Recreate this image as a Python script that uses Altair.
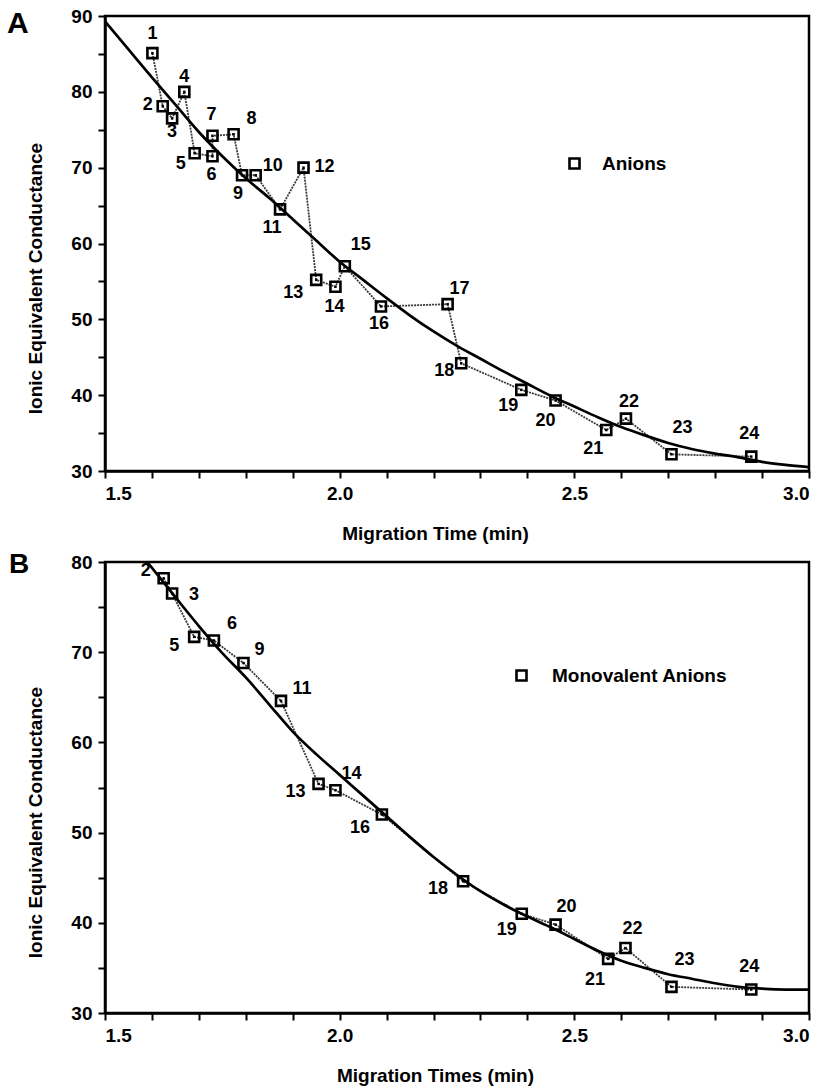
import altair as alt
import pandas as pd

FONT = "Liberation Sans"

# ---------------- Panel A: all anions ----------------
ions_a = list(range(1, 25))
time_a = [1.601, 1.623, 1.643, 1.669, 1.691, 1.729, 1.729, 1.774, 1.792, 1.821,
          1.873, 1.923, 1.950, 1.991, 2.011, 2.088, 2.230, 2.259, 2.387, 2.460,
          2.568, 2.610, 2.707, 2.877]
cond_a = [85.1, 78.1, 76.5, 80.0, 71.9, 71.5, 74.2, 74.4, 69.0, 69.0,
          64.5, 70.0, 55.2, 54.3, 57.0, 51.7, 52.0, 44.2, 40.7, 39.3,
          35.4, 36.9, 32.2, 31.9]
# label offsets (pixels) relative to each marker
lab_dx_a = [0, -15, 0, 0, -14, -1, -1, 18, -4, 17, -8, 21, -23, -1, 16, -2, 12, -17, -13, -10, -13, 3, 11, -2]
lab_dy_a = [-19, -1, 14, -15, 11, 19, -21, -15, 19, -9, 19, -1, 13, 20, -21, 18, -15, 8, 16, 21, 19, -17, -26, -23]

fit_time_a = [1.50, 1.55, 1.60, 1.65, 1.70, 1.75, 1.80, 1.85, 1.90, 1.95, 2.00,
              2.05, 2.10, 2.15, 2.20, 2.25, 2.30, 2.35, 2.40, 2.45, 2.50, 2.55,
              2.60, 2.65, 2.70, 2.75, 2.80, 2.85, 2.90, 2.95, 3.00]
fit_cond_a = [89.3, 85.6, 81.9, 78.3, 74.7, 71.5, 68.6, 66.0, 63.2, 60.4, 57.6,
              55.2, 52.8, 50.5, 48.4, 46.5, 44.8, 43.1, 41.5, 39.9, 38.5, 37.1,
              35.8, 34.7, 33.7, 32.9, 32.3, 31.8, 31.2, 30.8, 30.5]

# ---------------- Panel B: monovalent anions ----------------
ions_b = [2, 3, 5, 6, 9, 11, 13, 14, 16, 18, 19, 20, 21, 22, 23, 24]
time_b = [1.625, 1.643, 1.690, 1.732, 1.795, 1.875, 1.955, 1.991, 2.090, 2.263,
          2.388, 2.460, 2.572, 2.609, 2.707, 2.877]
cond_b = [78.2, 76.5, 71.7, 71.3, 68.8, 64.6, 55.4, 54.7, 52.0, 44.6,
          41.0, 39.8, 36.0, 37.2, 32.9, 32.6]
lab_dx_b = [-18, 22, -20, 18, 16, 21, -23, 16, -22, -25, -15, 11, -13, 7, 13, -2]
lab_dy_b = [-7, 1, 9, -16, -13, -12, 8, -16, 13, 8, 16, -18, 21, -19, -27, -23]

fit_time_b = [1.59, 1.65, 1.70, 1.75, 1.80, 1.85, 1.90, 1.95, 2.00, 2.05, 2.10,
              2.15, 2.20, 2.25, 2.30, 2.35, 2.40, 2.45, 2.50, 2.55, 2.60, 2.65,
              2.70, 2.75, 2.80, 2.85, 2.90, 2.95, 3.00]
fit_cond_b = [80.0, 76.1, 72.9, 69.9, 67.2, 64.2, 61.2, 58.7, 56.4, 54.1, 51.8,
              49.5, 47.3, 45.3, 43.5, 42.0, 40.7, 39.5, 38.2, 36.9, 35.8, 35.0,
              34.3, 33.8, 33.3, 32.9, 32.7, 32.6, 32.6]

x_tick_values = [round(1.5 + 0.1 * i, 1) for i in range(16)]


def panel(ions, times, conds, dxs, dys, fit_x, fit_y, ydom, height, series,
          letter, letter_size, letter_x, letter_y, xtitle, ytitle_y,
          legend_x, legend_y, legend_offset):
    pts = pd.DataFrame({
        "ion": ions, "t": times, "c": conds,
        "label": [str(i) for i in ions], "series": [series] * len(ions),
    })
    fit = pd.DataFrame({"t": fit_x, "c": fit_y})

    x = alt.X(
        "t:Q",
        scale=alt.Scale(domain=[1.5, 3.0], nice=False, zero=False),
        axis=alt.Axis(
            values=x_tick_values,
            labelExpr="abs(datum.value*2 - round(datum.value*2)) < 0.001 ? format(datum.value, '.1f') : ''",
            title=xtitle, titleX=330, titleY=62, titleAlign="center",
            titleBaseline="middle", titleAnchor="start",
        ),
    )
    y_vals = list(range(int(ydom[0]), int(ydom[1]) + 1, 5))
    y = alt.Y(
        "c:Q",
        scale=alt.Scale(domain=ydom, nice=False, zero=False),
        axis=alt.Axis(
            values=y_vals,
            labelExpr="datum.value % 10 === 0 ? datum.label : ''",
            title="Ionic Equivalent Conductance", titleX=-70, titleY=ytitle_y,
            titleAngle=270, titleAlign="center", titleBaseline="middle",
        ),
    )

    conn = alt.Chart(pts).mark_line(
        color="#3a3a3a", strokeWidth=1.8, strokeDash=[2, 1]
    ).encode(x=x, y=y, order="ion:Q")

    fitline = alt.Chart(fit).mark_line(
        color="black", strokeWidth=2.7, clip=True, interpolate="monotone"
    ).encode(x=x, y=y)

    markers = alt.Chart(pts).mark_point(
        filled=False, color="black", strokeWidth=2.6, size=100, opacity=1
    ).encode(
        x=x, y=y,
        shape=alt.Shape(
            "series:N",
            scale=alt.Scale(range=["square"]),
            legend=alt.Legend(
                title=None, orient="none", legendX=legend_x, legendY=legend_y,
                labelFont=FONT, labelFontSize=19, labelFontWeight="bold",
                labelColor="black", labelLimit=400, symbolStrokeWidth=2.6,
                symbolSize=100, symbolStrokeColor="black",
                labelOffset=legend_offset, padding=0,
            ),
        ),
    )
    dots = alt.Chart(pts).mark_point(
        filled=True, shape="square", size=6, color="black", opacity=1
    ).encode(x=x, y=y)

    groups = {}
    for ion, dx, dy in zip(ions, dxs, dys):
        groups.setdefault((dx, dy), []).append(int(ion))
    labels = []
    for (dx, dy), ids in groups.items():
        labels.append(
            alt.Chart(pts).transform_filter(
                alt.FieldOneOfPredicate(field="ion", oneOf=ids)
            ).mark_text(
                dx=dx, dy=dy, font=FONT, fontSize=18, fontWeight="bold",
                color="black", align="center", baseline="middle",
            ).encode(x=x, y=y, text="label:N")
        )

    letter_layer = alt.Chart(pd.DataFrame({"letter": [letter]})).mark_text(
        font=FONT, fontSize=letter_size, fontWeight="bold", color="black",
        align="left", baseline="alphabetic",
    ).encode(text="letter:N", x=alt.value(letter_x), y=alt.value(letter_y))

    return alt.layer(conn, fitline, markers, dots, *labels, letter_layer).properties(
        width=704, height=height
    )


panel_a = panel(ions_a, time_a, cond_a, lab_dx_a, lab_dy_a, fit_time_a, fit_cond_a,
                [30, 90], 455, "Anions", "A", 30, -98, 17,
                "Migration Time (min)", 262, 460, 138, 18)
panel_b = panel(ions_b, time_b, cond_b, lab_dx_b, lab_dy_b, fit_time_b, fit_cond_b,
                [30, 80], 451, "Monovalent Anions", "B", 28, -96, 11,
                "Migration Times (min)", 260, 407, 104, 21)

chart = alt.vconcat(panel_a, panel_b, spacing=91, bounds="flush").resolve_scale(
    x="independent", y="independent", shape="independent"
).resolve_legend(shape="independent").properties(
    padding={"left": 5, "top": 5, "right": 5, "bottom": 5}
).configure(font=FONT, background="white").configure_axis(
    grid=False, domainColor="black", domainWidth=2.5, tickColor="black",
    tickWidth=2, tickSize=7, labelFont=FONT, labelFontSize=19,
    labelFontWeight="bold", labelColor="black", labelPadding=6,
    titleFont=FONT, titleFontSize=19, titleFontWeight="bold", titleColor="black",
).configure_view(stroke="black", strokeWidth=2.5)

chart.save("out.html", embed_options={"renderer": "svg", "actions": False})
